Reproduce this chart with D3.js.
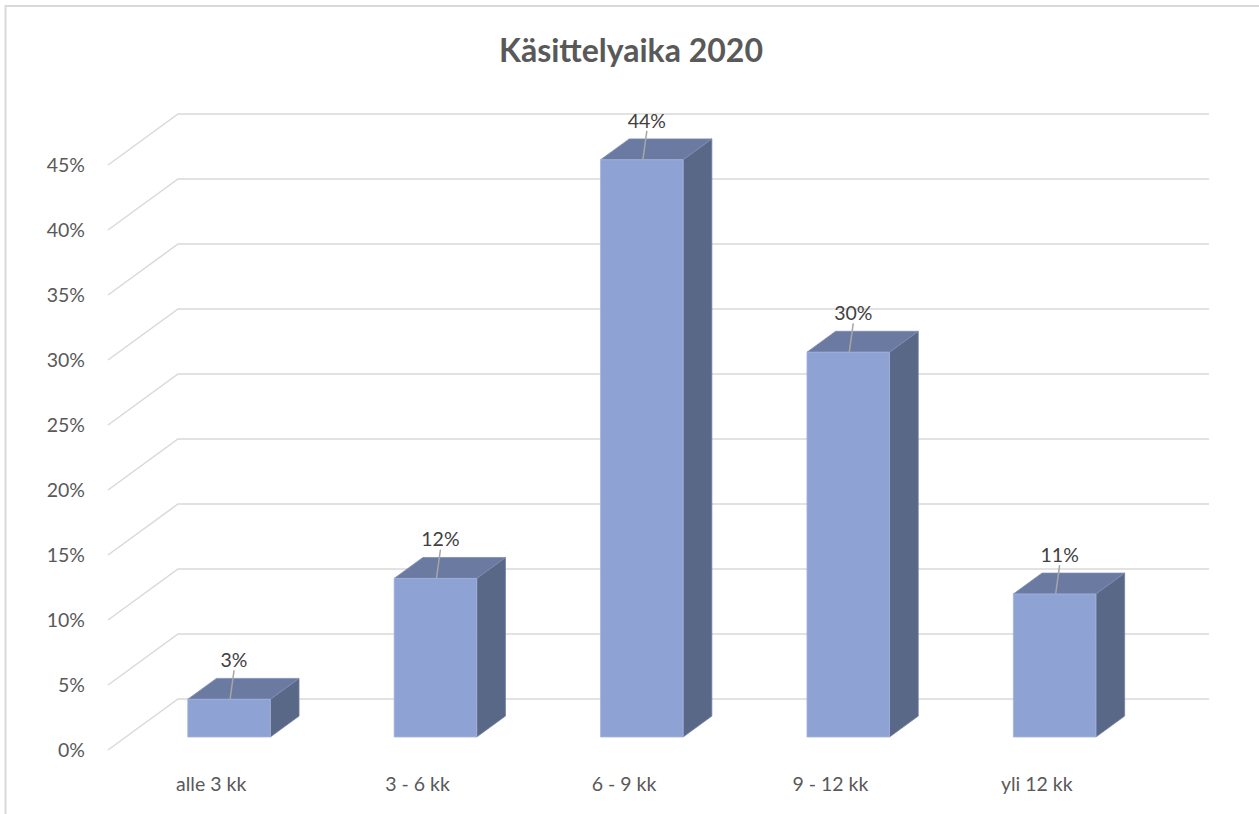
<!DOCTYPE html>
<html>
<head>
<meta charset="utf-8">
<script src="https://cdn.jsdelivr.net/npm/d3@7"></script>
<style>
  html, body { margin: 0; padding: 0; background: #fff; }
  svg { display: block; font-family: Lato, "Open Sans", sans-serif; }
</style>
</head>
<body>
<svg id="chart" width="1259" height="814"></svg>
<script>
// ---- data ----
const title = "Käsittelyaika 2020";
const categories = ["alle 3 kk", "3 - 6 kk", "6 - 9 kk", "9 - 12 kk", "yli 12 kk"];
const values = [0.029, 0.122, 0.444, 0.296, 0.110];
const yTicks = [0, 0.05, 0.10, 0.15, 0.20, 0.25, 0.30, 0.35, 0.40, 0.45];

// ---- layout ----
const W = 1259, H = 814;
const svg = d3.select("#chart");

// 3D projection parameters (depth 0 = front edge, 1 = back wall)
const depthDX = 70, depthDY = -51;
const frontLeft = 108, frontRight = 1140;
const floorFrontY = 750;
const barFrontDepth = 0.255, barBackDepth = 0.665;

const x = d3.scaleBand().domain(categories).range([frontLeft, frontRight])
  .paddingInner(0.6).paddingOuter(0.3);
const xCat = d3.scaleBand().domain(categories).range([frontLeft, frontRight]);
const y = d3.scaleLinear().domain([0, 0.45]).range([floorFrontY, floorFrontY - 585]);

// project (px on front plane, value) to depth d
const P = (px, v, d) => [px + depthDX * d, y(v) + depthDY * d];

// border
svg.append("rect").attr("x", 5.5).attr("y", 6).attr("width", 1400).attr("height", 1000)
  .attr("fill", "none").attr("stroke", "#d9d9d9").attr("stroke-width", 2);

// title
svg.append("text").attr("x", 631).attr("y", 62).attr("text-anchor", "middle")
  .attr("font-size", 32).attr("font-weight", "bold").attr("fill", "#595959").text(title);

// gridlines (side wall diagonal + back wall)
const grid = svg.append("g").attr("stroke", "#d9d9d9").attr("stroke-width", 1.5).attr("fill", "none");
const backRight = 1209;
yTicks.forEach(t => {
  const a = P(frontLeft, t, 0), b = P(frontLeft, t, 1);
  grid.append("path").attr("d", `M${a[0]},${a[1]}L${b[0]},${b[1]}L${backRight},${b[1]}`);
});

// y tick labels
const fmt = d3.format(".0%");
svg.append("g").selectAll("text").data(yTicks).join("text")
  .attr("x", 85).attr("y", d => y(d)).attr("dy", "0.35em")
  .attr("text-anchor", "end").attr("font-size", 19.5).attr("fill", "#595959")
  .text(d => fmt(d));

// category labels
svg.append("g").selectAll("text").data(categories).join("text")
  .attr("x", d => xCat(d) + xCat.bandwidth() / 2).attr("y", 784).attr("dy", "0.35em")
  .attr("text-anchor", "middle").attr("font-size", 19.5).attr("fill", "#595959")
  .text(d => d);

// bars
const cFront = "#8fa2d4", cTop = "#6a7aa1", cSide = "#5a6888";
const bars = svg.append("g");
categories.forEach((c, i) => {
  const v = values[i];
  const x0 = x(c), x1 = x(c) + x.bandwidth();
  const fb0 = P(x0, 0, barFrontDepth), fb1 = P(x1, 0, barFrontDepth);
  const ft0 = P(x0, v, barFrontDepth), ft1 = P(x1, v, barFrontDepth);
  const bt0 = P(x0, v, barBackDepth), bt1 = P(x1, v, barBackDepth);
  const bb1 = P(x1, 0, barBackDepth);
  const g = bars.append("g").attr("stroke-width", 0.8).attr("stroke-linejoin", "round");
  // side
  g.append("path").attr("d", `M${fb1}L${ft1}L${bt1}L${bb1}Z`).attr("fill", cSide).attr("stroke", "#6f7ea3");
  // top
  g.append("path").attr("d", `M${ft0}L${ft1}L${bt1}L${bt0}Z`).attr("fill", cTop).attr("stroke", "#7d8db6");
  // front
  g.append("path").attr("d", `M${fb0}L${fb1}L${ft1}L${ft0}Z`).attr("fill", cFront).attr("stroke", "#a3b3de");

  // data label with leader line
  const cx = (x0 + x1) / 2 + depthDX * barFrontDepth;
  const lx = cx + 5;
  const ly = bt0[1] - 18;
  g.append("line").attr("x1", cx + 1).attr("y1", ft0[1]).attr("x2", lx).attr("y2", ly + 10)
    .attr("stroke", "#a6a6a6").attr("stroke-width", 1.5);
  svg.append("text").attr("x", lx).attr("y", ly).attr("dy", "0.35em")
    .attr("text-anchor", "middle").attr("font-size", 19.5).attr("fill", "#404040")
    .text(fmt(v));
});
</script>
</body>
</html>
